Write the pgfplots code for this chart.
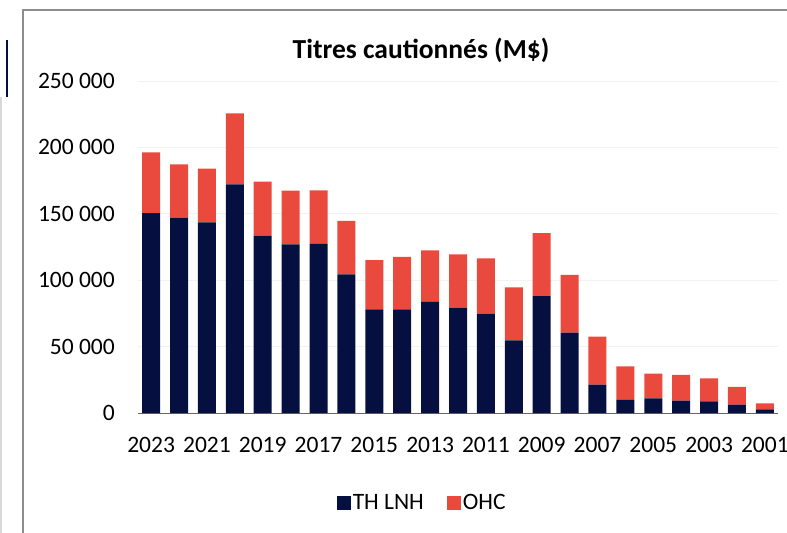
\documentclass[border=0pt]{standalone}
\usepackage{pgfplots}
\pgfplotsset{compat=1.18}
\usepackage{pgfplotstable}
\usepackage{fontspec}
\setmainfont{Carlito}
\definecolor{navy}{RGB}{6,16,64}
\definecolor{ohcred}{RGB}{234,74,61}
\pgfplotstableread{
x TH OHC
0 150600 45700
1 147100 40200
2 143600 40400
3 172200 53500
4 133500 40700
5 127000 40400
6 127300 40400
7 104400 40200
8 78000 37200
9 78100 39400
10 83600 38900
11 79300 40200
12 74800 41700
13 54700 39900
14 88100 47400
15 60500 43600
16 21300 36200
17 9800 25300
18 11000 18600
19 9300 19500
20 8800 17300
21 6300 13300
22 2800 4500
}\datatable
\begin{document}
\begin{tikzpicture}
\path[use as bounding box] (0bp,0bp) rectangle (787bp,-533bp);
% frame
\draw[black!45,line width=2bp] (23bp,-533bp) -- (23bp,-10bp) -- (787bp,-10bp);
\draw[black!15,line width=1.5bp] (1bp,-97bp) -- (1bp,-533bp);
\draw[navy,line width=1.5bp] (7bp,-40bp) -- (7bp,-97bp);
\node[font=\fontsize{27.5bp}{32bp}\selectfont\bfseries] at (421bp,-50bp) {Titres cautionnés (M\$)};
\begin{axis}[
  at={(138bp,-413bp)}, anchor=south west,
  scale only axis, width=640bp, height=332bp,
  xmin=-0.47, xmax=22.47, ymin=0, ymax=250000,
  ybar stacked, bar width=18bp,
  axis lines*=left,
  y axis line style={draw=none},
  x axis line style={draw=black!60,line width=1bp},
  major tick length=0pt,
  xtick={0,2,...,22},
  xticklabels={2023,2021,2019,2017,2015,2013,2011,2009,2007,2005,2003,2001},
  ytick={0,50000,100000,150000,200000,250000},
  yticklabels={0,50 000,100 000,150 000,200 000,250 000},
  scaled y ticks=false,
  ymajorgrids, major grid style={black!5,line width=0.8bp},
  ticklabel style={font=\fontsize{23.5bp}{28bp}\selectfont},
  yticklabel style={anchor=east, inner sep=0pt, xshift=-23bp},
  xticklabel style={anchor=north, inner sep=0pt, yshift=-24bp},
  legend style={at={(0.444,-0.271)}, anchor=center, draw=none, fill=none,
    font=\fontsize{23.5bp}{28bp}\selectfont, legend columns=2,
    /tikz/every even column/.append style={column sep=21bp},
    inner sep=0pt},
  legend image code/.code={\fill[#1,draw=none] (0bp,-7bp) rectangle (14bp,7bp);},
]
\addplot[fill=navy,draw=none] table[x=x,y=TH]{\datatable};
\addplot[fill=ohcred,draw=none] table[x=x,y=OHC]{\datatable};
\legend{TH LNH,OHC}
\end{axis}
\end{tikzpicture}
\end{document}
